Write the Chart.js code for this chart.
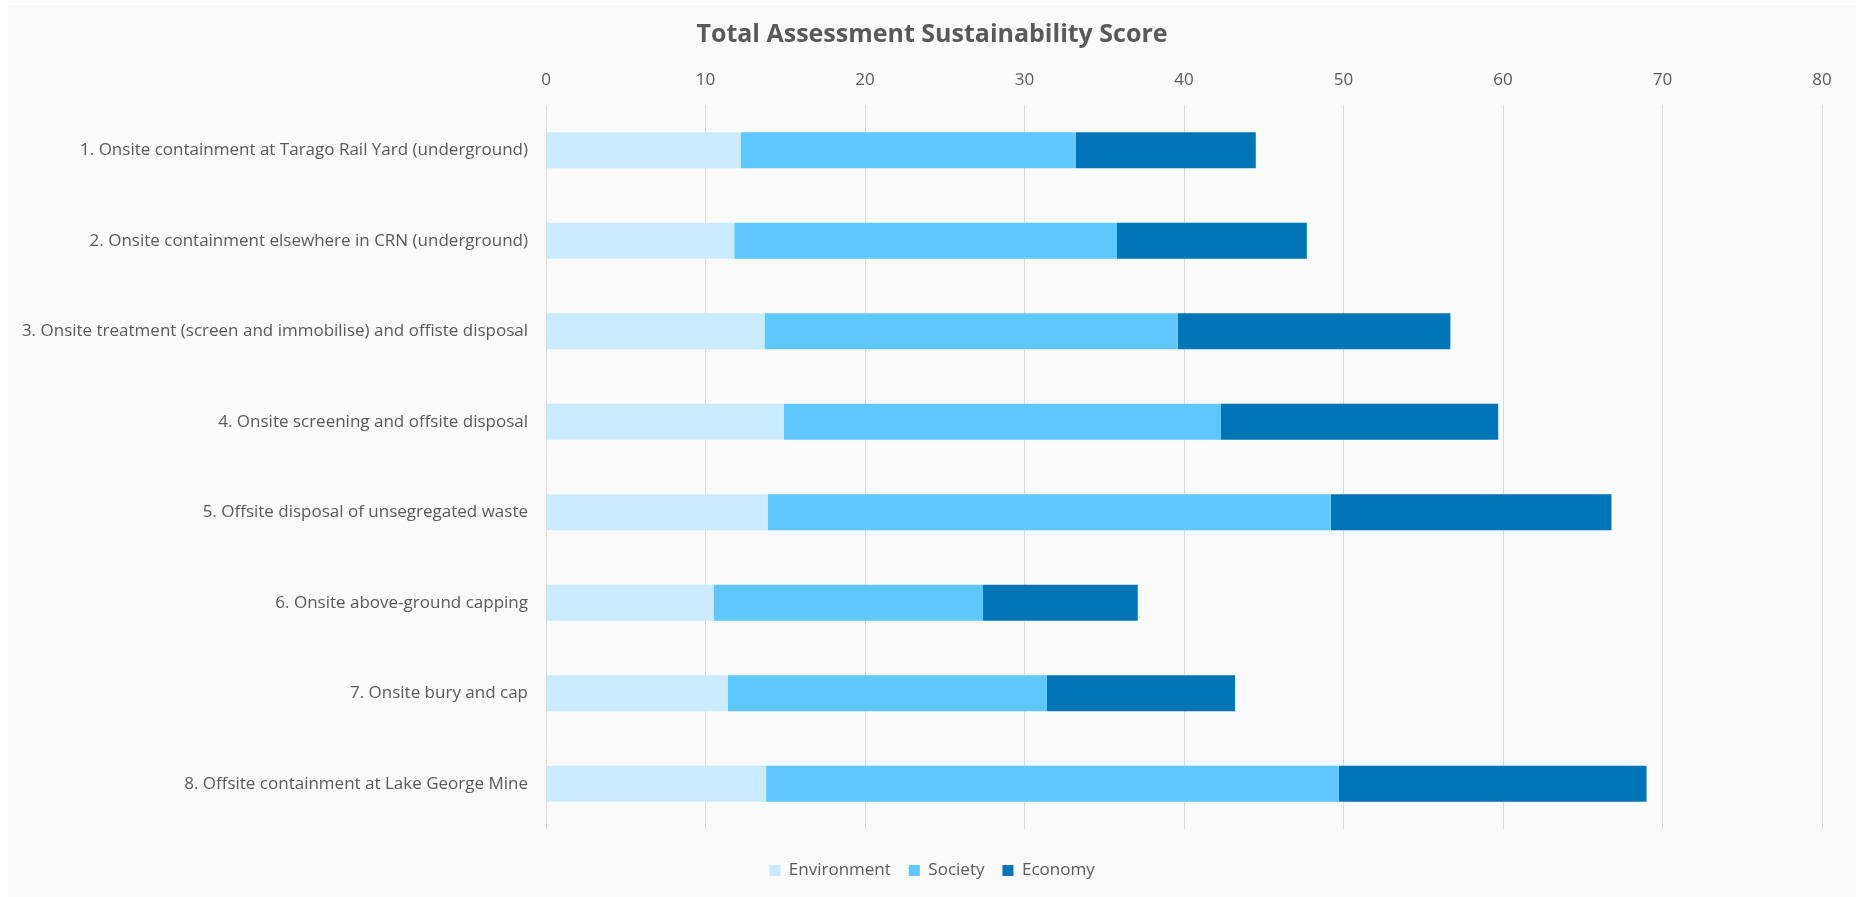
<!DOCTYPE html>
<html>
<head>
<meta charset="utf-8">
<script src="https://cdn.jsdelivr.net/npm/chart.js@4.4.1/dist/chart.umd.min.js"></script>
<style>
    html, body { margin: 0; padding: 0; background: #ffffff; }
    #panel { position: absolute; left: 8px; top: 5px; width: 1848px; height: 892px; background: #fafafa; }
</style>
</head>
<body>
<div id="panel"><canvas id="score-chart" width="1848" height="892"></canvas></div>
<script>
const options_labels = [
    '1. Onsite containment at Tarago Rail Yard (underground)',
    '2. Onsite containment elsewhere in CRN (underground)',
    '3. Onsite treatment (screen and immobilise) and offiste disposal',
    '4. Onsite screening and offsite disposal',
    '5. Offsite disposal of unsegregated waste',
    '6. Onsite above-ground capping',
    '7. Onsite bury and cap',
    '8. Offsite containment at Lake George Mine'
];
const environment = [12.2, 11.8, 13.7, 14.9, 13.9, 10.5, 11.4, 13.8];
const society = [21.0, 24.0, 25.9, 27.4, 35.3, 16.9, 20.0, 35.9];
const economy = [11.3, 11.9, 17.1, 17.4, 17.6, 9.7, 11.8, 19.3];
const xTicks = [0, 10, 20, 30, 40, 50, 60, 70, 80];

const textColor = '#595959';
const LEGEND_GAP = 15;

Chart.defaults.font.family = '"Open Sans", "Noto Sans", sans-serif';
Chart.defaults.color = textColor;

// push legend a bit below the plot area
const legendGap = {
    id: 'legendGap',
    beforeLayout(chart) {
        const lg = chart.legend;
        if (lg && !lg._gapWrapped) {
            const fit = lg.fit;
            lg.fit = function () { fit.call(this); this.height += LEGEND_GAP; };
            lg._gapWrapped = true;
        }
    },
    afterLayout(chart) {
        if (chart.legend) {
            chart.legend.top += LEGEND_GAP;
            chart.legend.bottom += LEGEND_GAP;
        }
    }
};

const ctx = document.getElementById('score-chart').getContext('2d');

new Chart(ctx, {
    type: 'bar',
    data: {
        labels: options_labels,
        datasets: [
            { label: 'Environment', data: environment, backgroundColor: '#caebfe' },
            { label: 'Society', data: society, backgroundColor: '#5ec7fe' },
            { label: 'Economy', data: economy, backgroundColor: '#0075b5' }
        ]
    },
    options: {
        indexAxis: 'y',
        responsive: false,
        animation: false,
        categoryPercentage: 1,
        barPercentage: 0.4,
        layout: { padding: { left: 0, right: 0, top: 0, bottom: 8 } },
        plugins: {
            title: {
                display: true,
                text: 'Total Assessment Sustainability Score',
                color: textColor,
                font: { size: 25, weight: 'bold' },
                padding: { top: 15, bottom: 4 }
            },
            legend: {
                position: 'bottom',
                labels: {
                    boxWidth: 11,
                    boxHeight: 11,
                    padding: 18,
                    color: textColor,
                    font: { size: 17 }
                }
            },
            tooltip: { enabled: false }
        },
        scales: {
            x: {
                position: 'top',
                stacked: true,
                min: 0,
                max: 80,
                afterBuildTicks: (scale) => { scale.ticks = xTicks.map(v => ({ value: v })); },
                afterFit: (scale) => { scale.height = 100 - 49; },
                ticks: { color: textColor, font: { size: 17 }, padding: 15 },
                grid: { color: '#d9d9d9', lineWidth: 1, drawTicks: false },
                border: { display: false }
            },
            y: {
                stacked: true,
                afterFit: (scale) => { scale.width = 538; },
                ticks: { color: textColor, font: { size: 17 }, padding: 18 },
                grid: { display: false, drawTicks: false },
                border: { display: false }
            },
            // empty right-hand axis: keeps the right margin so title and legend stay centred
            yRight: {
                axis: 'y',
                position: 'right',
                afterFit: (scale) => { scale.width = 34; },
                ticks: { display: false },
                grid: { display: false, drawTicks: false },
                border: { display: false }
            }
        }
    },
    plugins: [legendGap]
});
</script>
</body>
</html>
